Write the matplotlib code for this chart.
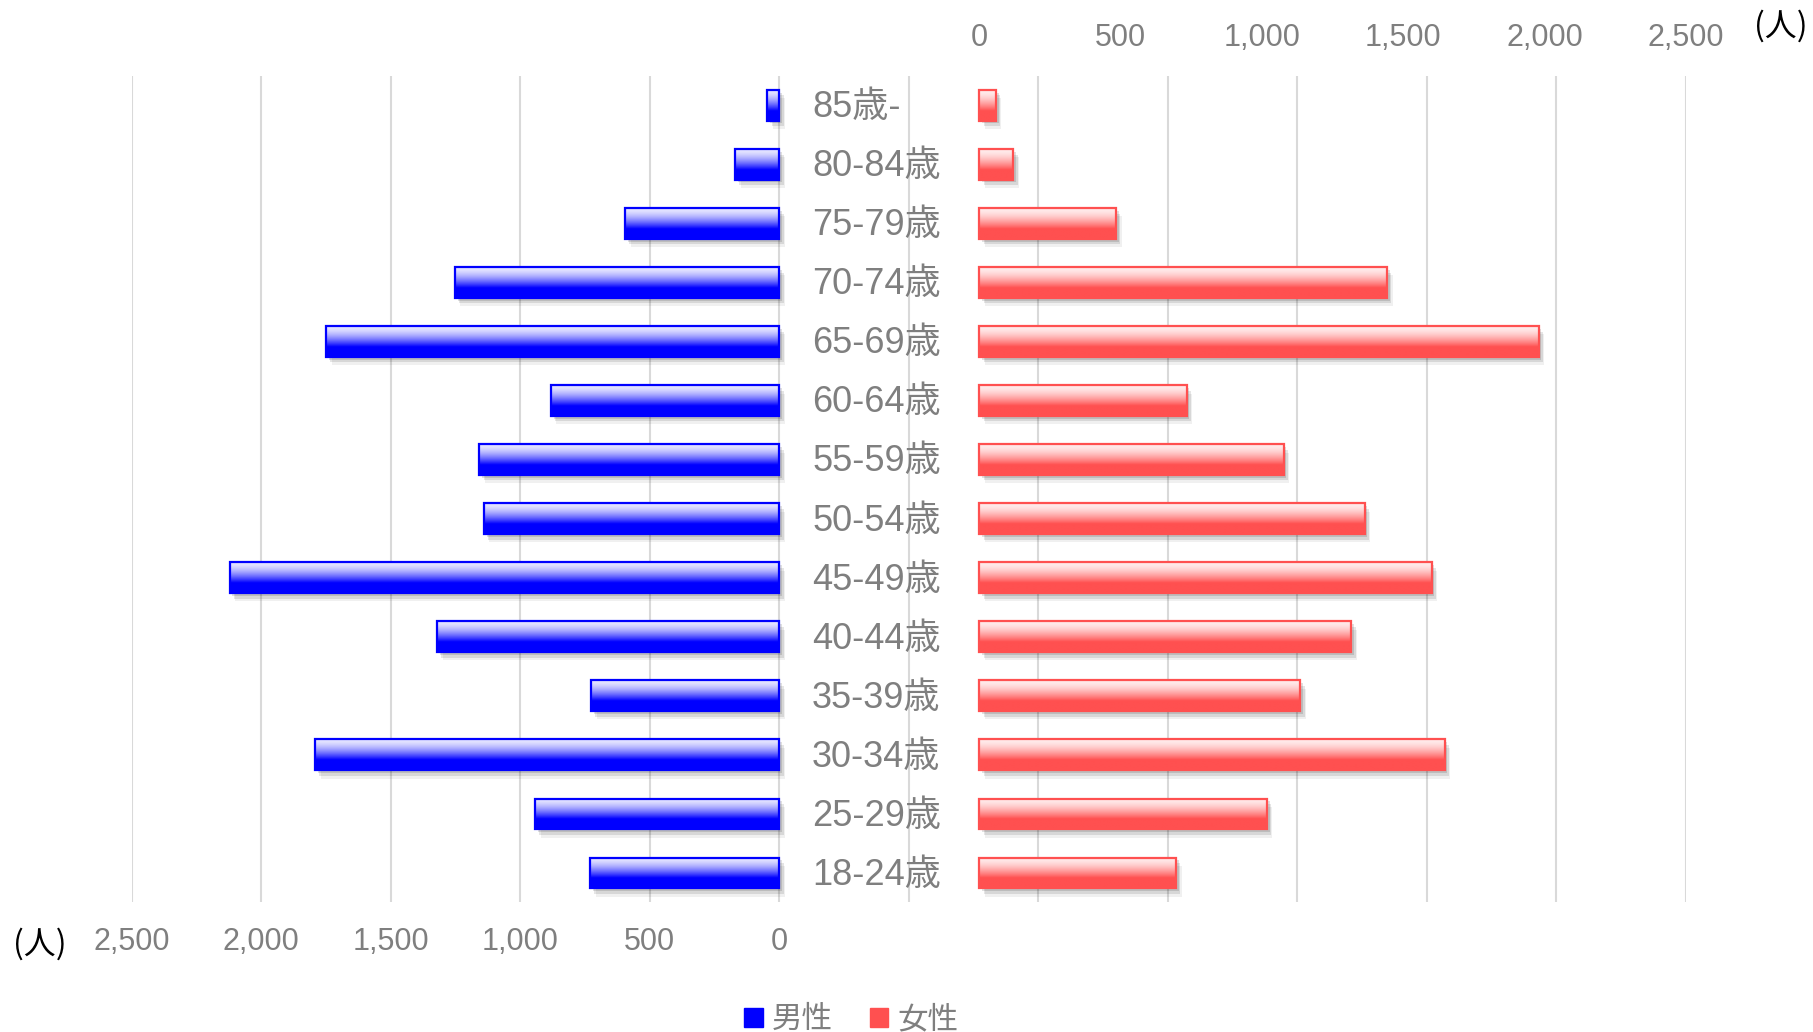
import numpy as np
import matplotlib
matplotlib.use("Agg")
import matplotlib.pyplot as plt
import matplotlib.transforms as mtransforms
import matplotlib.patheffects as pe
from matplotlib.patches import Rectangle, Patch
from matplotlib.ticker import FuncFormatter

plt.rcParams["font.family"] = ["Liberation Sans", "Noto Sans CJK JP"]

# 年齢階級（下から上へ）
ages = ["18-24歳", "25-29歳", "30-34歳", "35-39歳", "40-44歳", "45-49歳", "50-54歳",
        "55-59歳", "60-64歳", "65-69歳", "70-74歳", "75-79歳", "80-84歳", "85歳-"]
male = [730, 943, 1792, 727, 1321, 2122, 1141, 1158, 882, 1749, 1253, 595, 171, 46]
female = [696, 1017, 1646, 1136, 1316, 1600, 1363, 1076, 733, 1979, 1442, 483, 120, 58]
value_ticks = [0, 500, 1000, 1500, 2000, 2500]

GRAY = "#7f7f7f"
GRID = "#d9d9d9"
BLUE, BLUE_LIGHT = "#0000ff", "#e4e4ff"
RED, RED_LIGHT = "#ff5050", "#ffeaea"
BAR_H = 0.52

fig = plt.figure(figsize=(18.13, 10.32), dpi=100)
ax = fig.add_axes([0.0727, 0.1255, 0.8572, 0.8011])
ax2 = ax.twiny()

y = np.arange(len(ages))


def gradient(light, full, n=96):
    t = np.linspace(0, 1, n)
    m = np.clip((t - 0.05) / 0.62, 0, 1) ** 1.5
    c0 = np.array(matplotlib.colors.to_rgb(light))
    c1 = np.array(matplotlib.colors.to_rgb(full))
    return (c0[None, :] * (1 - m[:, None]) + c1[None, :] * m[:, None])[:, None, :]


def glossy_bars(axis, values, light, full):
    bars = axis.barh(y, values, height=BAR_H, left=0, color=full,
                     edgecolor=full, linewidth=1.2, zorder=2)
    img = gradient(light, full)
    for rect in bars:
        rect.set_path_effects([
            pe.SimplePatchShadow(offset=(4, -6), shadow_rgbFace="black", alpha=0.06),
            pe.SimplePatchShadow(offset=(3, -4), shadow_rgbFace="black", alpha=0.10),
            pe.SimplePatchShadow(offset=(2, -2), shadow_rgbFace="black", alpha=0.12),
            pe.Normal(),
        ])
        x0, w = rect.get_x(), rect.get_width()
        y0, h = rect.get_y(), rect.get_height()
        im = axis.imshow(img, extent=(x0, x0 + w, y0, y0 + h), aspect="auto",
                         origin="upper", interpolation="bilinear", zorder=3)
        im.set_clip_path(rect)
        axis.add_patch(Rectangle((x0, y0), w, h, fill=False, edgecolor=full,
                                 linewidth=1.6, zorder=4))


glossy_bars(ax, male, BLUE_LIGHT, BLUE)
glossy_bars(ax2, female, RED_LIGHT, RED)

fmt = FuncFormatter(lambda v, p: f"{int(round(v)):,}" if v >= 0 else "")

# 男性軸（左向き）: グリッドはこの軸から
ax.set_xlim(2500, -3500)
ax.set_ylim(-0.5, len(ages) - 0.5)
ax.set_xticks(np.arange(-3500, 2501, 500))
ax.xaxis.set_major_formatter(fmt)
ax.grid(axis="x", color=GRID, linewidth=1.5)
ax.set_axisbelow(True)
ax.tick_params(axis="x", length=0, pad=17.5, labelsize=22, labelcolor=GRAY)
ax.set_yticks([])

# 女性軸（右向き）
ax2.set_xlim(-3000, 2500)
ax2.set_ylim(-0.5, len(ages) - 0.5)
ax2.set_xticks(value_ticks)
ax2.xaxis.set_major_formatter(fmt)
ax2.tick_params(axis="x", length=0, pad=16.5, labelsize=22, labelcolor=GRAY)
ax2.set_yticks([])

for a in (ax, ax2):
    for s in a.spines.values():
        s.set_visible(False)

# 年齢ラベル
trans = mtransforms.blended_transform_factory(fig.transFigure, ax.transData)
for yi, label in zip(y, ages):
    ax2.text(812 / 1813, yi - 0.04, label, transform=trans, ha="left", va="center",
             fontsize=26, color=GRAY, zorder=5)

fig.text(40 / 1813, 1 - 944 / 1032, "(人)", ha="center", va="center",
         fontsize=23, color="black", family=["Noto Sans CJK JP"])
fig.text(1781 / 1813, 1 - 26 / 1032, "(人)", ha="center", va="center",
         fontsize=23, color="black", family=["Noto Sans CJK JP"])

handles = [Patch(facecolor=BLUE, edgecolor=BLUE), Patch(facecolor=RED, edgecolor=RED)]
fig.legend(handles, ["男性", "女性"], loc="center", bbox_to_anchor=(0.4695, 0.012),
           ncol=2, frameon=False, handlelength=0.6, handleheight=0.6,
           handletextpad=0.3, columnspacing=1.2,
           prop={"family": ["Noto Sans CJK JP"], "size": 22}, labelcolor=GRAY)

fig.savefig("out.png", dpi=100, facecolor="white")
